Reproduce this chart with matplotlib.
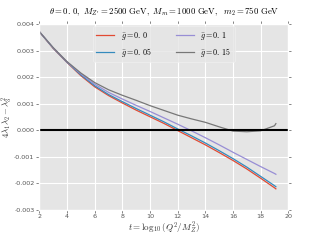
import numpy as np
import matplotlib
matplotlib.use('Agg')
import matplotlib.pyplot as plt

plt.style.use('ggplot')
plt.rcParams['mathtext.fontset'] = 'cm'

# running scale t and the quartic combination 4*l1*l2 - l3^2 for each gbar
t = [2, 3, 4, 5, 6, 7, 8, 9, 10, 11, 12, 13, 14, 15, 16, 17, 18, 19, 19.1]
g00 = [3.71, 3.08, 2.55, 2.05, 1.63, 1.30, 1.02, 0.75, 0.50, 0.25, -0.02,
       -0.29, -0.56, -0.85, -1.15, -1.47, -1.82, -2.18, -2.22]
g05 = [3.71, 3.09, 2.56, 2.08, 1.67, 1.34, 1.07, 0.81, 0.56, 0.31, 0.04,
       -0.22, -0.49, -0.78, -1.08, -1.40, -1.75, -2.10, -2.14]
g10 = [3.71, 3.10, 2.57, 2.12, 1.73, 1.42, 1.17, 0.93, 0.70, 0.46, 0.22,
       -0.03, -0.29, -0.56, -0.84, -1.11, -1.38, -1.64, -1.67]
g15 = [3.71, 3.11, 2.58, 2.15, 1.79, 1.52, 1.31, 1.12, 0.92, 0.74, 0.56,
       0.42, 0.29, 0.12, -0.04, -0.065, -0.03, 0.16, 0.24]
labels = [r'$\bar{g}=0.\,0$', r'$\bar{g}=0.\,05$', r'$\bar{g}=0.\,1$', r'$\bar{g}=0.\,15$']
colors = ['#E24A33', '#348ABD', '#988ED5', '#777777']

fig = plt.figure(figsize=(3.2, 2.4), dpi=100)
ax = fig.add_axes([0.123, 0.127, 0.778, 0.773])

t = np.array(t)
for vals, lab, c in zip([g00, g05, g10, g15], labels, colors):
    ax.plot(t, np.array(vals) * 1e-3, lw=0.9, color=c, label=lab)

ax.axhline(0, color='black', lw=1.5)
ax.set_xlim(2, 20)
ax.set_ylim(-0.003, 0.004)
ax.set_xticks(np.arange(2, 21, 2))
yt = np.arange(-0.003, 0.0041, 0.001)
ax.set_yticks(yt)
ax.set_yticklabels(['%.3f' % v if abs(v) > 1e-9 else '0.000' for v in yt])
ax.tick_params(labelsize=4.6, colors='#555555', length=2, width=0.5, top=True, right=True, pad=1.5)
ax.grid(True, color='white', lw=0.8)

ax.set_xlabel(r'$t=\log_{10}(Q^2/M_Z^2)$', fontsize=6.5, color='#333333', labelpad=1)
ax.set_ylabel(r'$4\lambda_1\lambda_2-\lambda_3^2$', fontsize=6.3, color='#333333')
ax.yaxis.set_label_coords(-0.098, 0.5)
ax.set_title(r'$\theta=0.\,0,\ M_{Z^{\prime}}=2500\ \mathrm{GeV},\ M_{m}=1000\ \mathrm{GeV},\ \ m_2=750\ \mathrm{GeV}$',
             fontsize=6.3, pad=7)

leg = ax.legend(loc='upper center', ncol=2, fontsize=5.8, frameon=True,
                handlelength=2.2, columnspacing=3, borderaxespad=0.3)
leg.get_frame().set_facecolor('#E5E5E5')
leg.get_frame().set_edgecolor('#F2F2F2')
for line in leg.get_lines():
    line.set_linewidth(0.9)

fig.savefig('out.png', dpi=100)
